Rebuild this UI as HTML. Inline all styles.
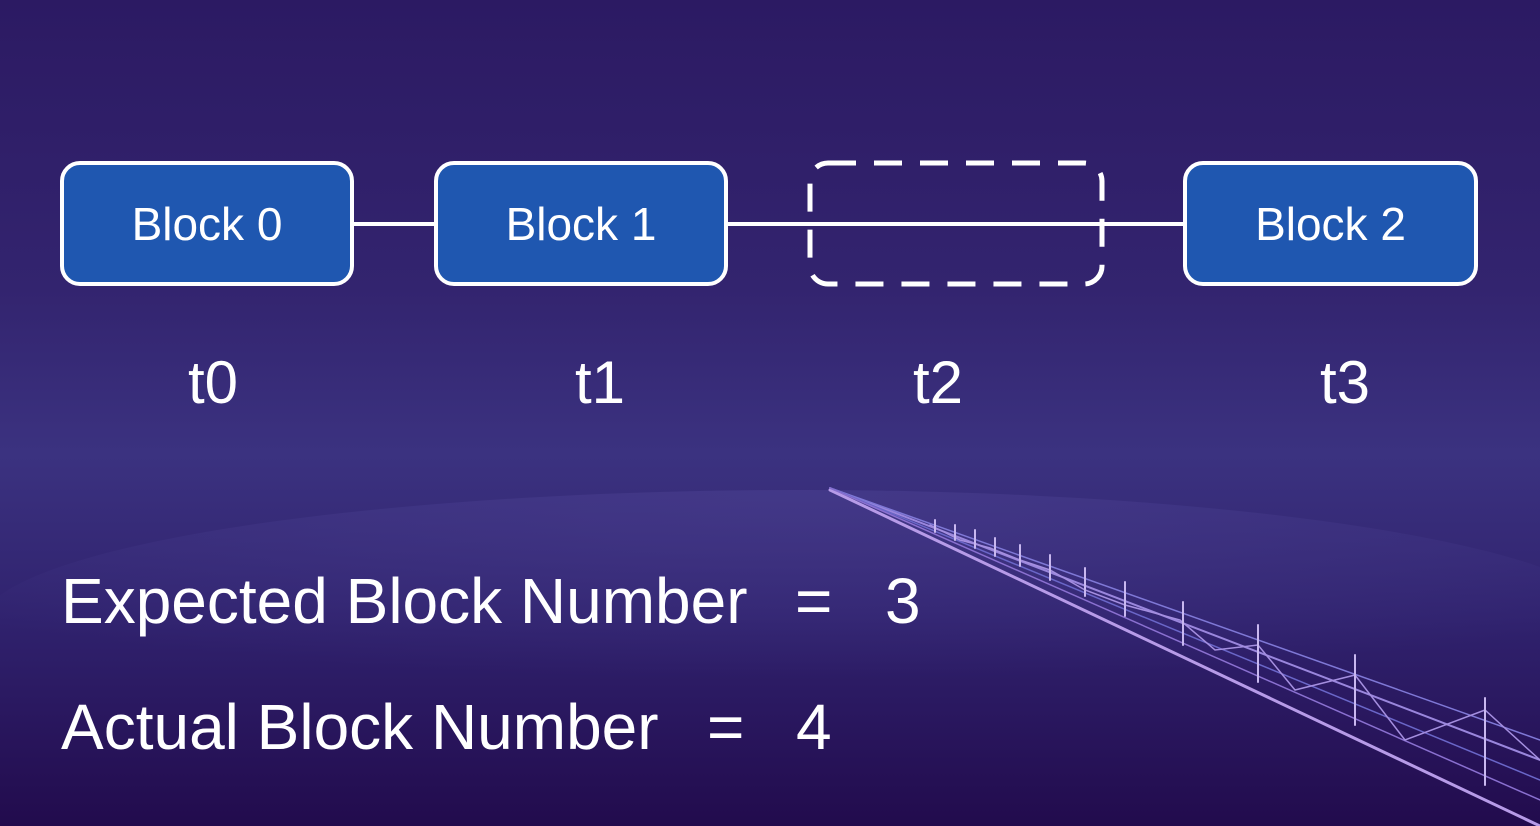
<!DOCTYPE html>
<html><head><meta charset="utf-8">
<style>
html,body{margin:0;padding:0}
body{width:1540px;height:826px;overflow:hidden;position:relative;font-family:"Liberation Sans",sans-serif;
background:linear-gradient(180deg,#2c1a63 0%,#33246f 35%,#3b3280 55%,#30226e 75%,#220b4d 100%);}
.t{position:absolute;color:#fff;white-space:nowrap}
</style></head>
<body>
<svg width="1540" height="826" style="position:absolute;left:0;top:0">
  <defs>
    <radialGradient id="glow" cx="50%" cy="0%" r="70%">
      <stop offset="0" stop-color="#4a3f90" stop-opacity="0.6"/>
      <stop offset="1" stop-color="#4a3f90" stop-opacity="0"/>
    </radialGradient>
  </defs>
  <ellipse cx="800" cy="625" rx="820" ry="135" fill="url(#glow)"/>
  <g stroke-linecap="round">
    <line x1="830" y1="490" x2="1540" y2="826" stroke="#b79be8" stroke-width="3"/>
    <line x1="830" y1="488" x2="1540" y2="760" stroke="#9a86dd" stroke-width="2"/>
    <line x1="830" y1="488" x2="1540" y2="740" stroke="#7f78d6" stroke-width="1.5"/>
    <line x1="830" y1="488" x2="1540" y2="780" stroke="#6a66c8" stroke-width="1.5"/>
    <line x1="830" y1="488" x2="1540" y2="800" stroke="#8a70d0" stroke-width="1.5"/>
    <polyline fill="none" stroke="#a58fe0" stroke-width="1.5"
      points="930,525 960,540 990,548 1020,560 1050,570 1085,590 1125,605 1180,620 1215,650 1258,645 1295,690 1355,675 1405,740 1485,710 1540,760"/>
    <g stroke="#c9b8f0" stroke-width="2">
      <line x1="935" y1="520" x2="935" y2="532"/><line x1="955" y1="525" x2="955" y2="540"/>
      <line x1="975" y1="530" x2="975" y2="548"/><line x1="995" y1="538" x2="995" y2="556"/>
      <line x1="1020" y1="545" x2="1020" y2="566"/><line x1="1050" y1="555" x2="1050" y2="580"/>
      <line x1="1085" y1="568" x2="1085" y2="596"/><line x1="1125" y1="582" x2="1125" y2="616"/>
      <line x1="1183" y1="602" x2="1183" y2="645"/><line x1="1258" y1="625" x2="1258" y2="682"/>
      <line x1="1355" y1="655" x2="1355" y2="725"/><line x1="1485" y1="698" x2="1485" y2="785"/>
    </g>
  </g>
  <line x1="352" y1="224" x2="1185" y2="224" stroke="#fff" stroke-width="4"/>
  <rect x="62" y="163" width="290" height="121" rx="18" fill="#1f57b0" stroke="#fff" stroke-width="4"/>
  <rect x="436" y="163" width="290" height="121" rx="18" fill="#1f57b0" stroke="#fff" stroke-width="4"/>
  <rect x="810" y="163" width="292" height="121" rx="18" fill="none" stroke="#fff" stroke-width="5" stroke-dasharray="28,18"/>
  <rect x="1185" y="163" width="291" height="121" rx="18" fill="#1f57b0" stroke="#fff" stroke-width="4"/>
</svg>
<div class="t" style="left:62px;width:290px;text-align:center;top:197px;font-size:46px">Block 0</div>
<div class="t" style="left:436px;width:290px;text-align:center;top:197px;font-size:46px">Block 1</div>
<div class="t" style="left:1185px;width:291px;text-align:center;top:197px;font-size:46px">Block 2</div>
<div class="t" style="left:113px;width:200px;text-align:center;top:348px;font-size:60px">t0</div>
<div class="t" style="left:500px;width:200px;text-align:center;top:348px;font-size:60px">t1</div>
<div class="t" style="left:838px;width:200px;text-align:center;top:348px;font-size:60px">t2</div>
<div class="t" style="left:1245px;width:200px;text-align:center;top:348px;font-size:60px">t3</div>
<div class="t" style="left:61px;top:564px;font-size:64px">Expected Block Number</div>
<div class="t" style="left:795px;top:564px;font-size:64px">=</div>
<div class="t" style="left:885px;top:564px;font-size:64px">3</div>
<div class="t" style="left:61px;top:690px;font-size:64px">Actual Block Number</div>
<div class="t" style="left:707px;top:690px;font-size:64px">=</div>
<div class="t" style="left:796px;top:690px;font-size:64px">4</div>
</body></html>
